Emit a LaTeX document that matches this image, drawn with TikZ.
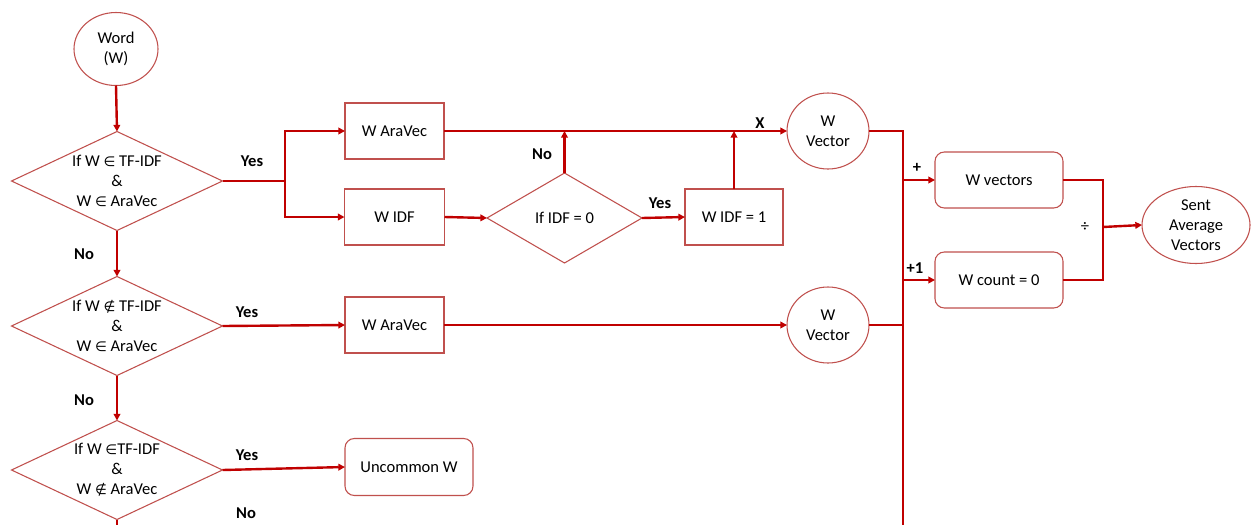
\documentclass[tikz,border=0pt]{standalone}
\usepackage{fontspec}
\setmainfont{Carlito}
\newfontfamily\symfont{DejaVu Sans}[Scale=0.82]
\usetikzlibrary{shapes.geometric,arrows.meta}
\definecolor{conn}{HTML}{C00000}
\definecolor{edge}{HTML}{C0504D}
\newcommand\memberof{{\symfont ∈}}
\newcommand\notmember{{\symfont ∉}}
\begin{document}
\begin{tikzpicture}[x=0.75pt,y=-0.75pt,
  font=\fontsize{12.4}{15}\selectfont,
  every node/.style={inner sep=0pt, outer sep=0pt},
  shp/.style={draw=edge, line width=0.8pt, fill=white},
  boxnode/.style={shp, rectangle, minimum height=42pt},
  rbox/.style={boxnode, rounded corners=7pt},
  dia/.style={shp, diamond, minimum width=158.25pt, minimum height=74.25pt},
  oval/.style={shp, ellipse},
  txt/.style={align=center},
  lbl/.style={font=\fontsize{12.4}{15}\selectfont\bfseries},
  wire/.style={draw=conn, line width=1.8pt},
  arr/.style={wire, -{Triangle[length=5pt,width=5pt]}}
]
\useasboundingbox (0,0) rectangle (1255,525);

% shapes
\node[oval, minimum width=63pt, minimum height=54.75pt] (word) at (116,49) {};
\node[txt] at (word) {Word\\(W)};

\node[dia] (d1) at (117,181) {};
\node[txt] at (d1) {If W \memberof{} TF-IDF\\\&\\W \memberof{} AraVec};
\node[dia] (d2) at (117,326) {};
\node[txt] at (d2) {If W \notmember{} TF-IDF\\\&\\W \memberof{} AraVec};
\node[dia] (d3) at (117,470) {};
\node[txt] at (d3) {If W \memberof TF-IDF\\\&\\W \notmember{} AraVec};

\node[boxnode, minimum width=74.25pt] (ara1) at (394.5,131) {W AraVec};
\node[boxnode, minimum width=75pt] (idf) at (394.5,217) {W IDF};
\node[shp, diamond, minimum width=116.25pt, minimum height=67.5pt] (idfdia) at (564.5,218) {};
\node[txt] at (idfdia) {If IDF = 0};
\node[boxnode, minimum width=73.5pt] (idf1) at (734,217) {W IDF = 1};
\node[boxnode, minimum width=74.25pt] (ara2) at (394.5,325) {W AraVec};
\node[rbox, minimum width=96pt, minimum height=42.75pt] (unc) at (409,467) {Uncommon W};

\node[oval, minimum width=61.5pt, minimum height=57pt] (vec1) at (828,131) {};
\node[txt] at (vec1) {W\\Vector};
\node[oval, minimum width=61.5pt, minimum height=57pt] (vec2) at (828,325) {};
\node[txt] at (vec2) {W\\Vector};

\node[rbox, minimum width=96pt] (wvs) at (999,180) {W vectors};
\node[rbox, minimum width=96pt] (wc) at (999,280) {W count = 0};

\node[oval, minimum width=81pt, minimum height=57.75pt] (sent) at (1196,225) {};
\node[txt] at (sent) {Sent\\Average\\Vectors};

% junction points
\coordinate (j1) at (285,181);
\coordinate (bt) at (903,131);
\coordinate (bb) at (903,525);
\coordinate (j2) at (1103,227);
\coordinate (dend) at (117,525);

% connectors
\draw[arr] (word.south) -- (d1.north);
\draw[wire] (d1.east) -- (j1);
\draw[arr] (j1) |- (ara1.west);
\draw[arr] (j1) |- (idf.west);
\draw[arr] (idf.east) -- (idfdia.west);
\draw[arr] (idfdia.east) -- (idf1.west);
\draw[arr] (idfdia.north) -- (idfdia.north |- ara1.east);
\draw[arr] (idf1.north) -- (idf1.north |- ara1.east);
\draw[arr] (ara1.east) -- (vec1.west);
\draw[wire] (vec1.east) -- (bt) -- (bb);
\draw[wire] (vec2.east) -- (bt |- vec2.east);
\draw[arr] (bt |- wvs.west) -- (wvs.west);
\draw[arr] (bt |- wc.west) -- (wc.west);
\draw[wire] (wvs.east) -| (j2) |- (wc.east);
\draw[arr] (j2) -- (sent.west);
\draw[arr] (d1.south) -- (d2.north);
\draw[arr] (d2.east) -- (ara2.west);
\draw[arr] (ara2.east) -- (vec2.west);
\draw[arr] (d2.south) -- (d3.north);
\draw[arr] (d3.east) -- (unc.west);
\draw[wire] (d3.south) -- (dend);

% branch labels
\node[lbl] at (252,161) {Yes};
\node[lbl] at (84,254) {No};
\node[lbl] at (542,154) {No};
\node[lbl] at (660,203) {Yes};
\node[lbl] at (760,123) {X};
\node[lbl] at (917,168) {+};
\node[lbl] at (915,268) {+1};
\node at (1085,227) {÷};
\node[lbl] at (247,312) {Yes};
\node[lbl] at (84,400) {No};
\node[lbl] at (247,455) {Yes};
\node[lbl] at (246,513) {No};
\end{tikzpicture}
\end{document}
